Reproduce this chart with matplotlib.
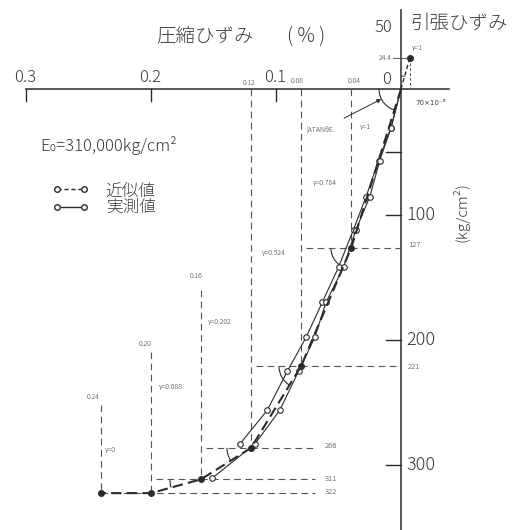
"""
Stress-strain curve of concrete (compression / tension), approximate vs measured
"""

import math
import matplotlib
matplotlib.use("Agg")
import matplotlib.pyplot as plt
from matplotlib.patches import Arc
from matplotlib.lines import Line2D
from matplotlib.transforms import IdentityTransform

plt.rcParams["font.family"] = ["Noto Sans CJK JP", "DejaVu Sans"]
plt.rcParams["font.weight"] = "light"

# approximate curve (compression strain %, stress kg/cm2)
approx_strain = [0, 0.04, 0.08, 0.12, 0.16, 0.20, 0.24]
approx_stress = [0, 127, 221, 286, 311, 322, 322]
strain_labels = ["", "0.04", "0.08", "0.12", "0.16", "0.20", "0.24"]
stress_labels = ["", "127", "221", "286", "311", "322", ""]
gamma_labels = ["γ=1", "γ=0.784", "γ=0.524", "γ=0.202", "γ=0.088", "γ=0"]

# tension point
tension_strain = -0.007
tension_stress = -24.4

# measured curves
meas1_strain = [0, 0.008, 0.018, 0.028, 0.038, 0.050, 0.063, 0.076, 0.091, 0.107, 0.129]
meas1_stress = [0, 31, 57, 86, 112, 142, 170, 198, 225, 256, 283]
meas2_strain = [0, 0.008, 0.017, 0.025, 0.036, 0.046, 0.060, 0.069, 0.082, 0.097, 0.117, 0.151]
meas2_stress = [0, 31, 57, 86, 112, 142, 170, 198, 225, 256, 283, 310]

x_ticks = [0.3, 0.2, 0.1]
x_tick_labels = ["0.3", "0.2", "0.1"]
y_ticks = [50, 100, 200, 300]

W, H = 514, 530
INK = "#2b2b2b"
TXT = "#3a3a3a"
GUIDE = "#555555"


def fx(px):
    return (401 - px) / 1250


def fy(py):
    return (py - 89) / 1.255


def label(px, py, s, size, **kw):
    kw.setdefault("ha", "center")
    kw.setdefault("va", "center")
    fig.text(px / W, 1 - py / H, s, fontsize=size, color=TXT, **kw)


fig = plt.figure(figsize=(W / 100, H / 100), dpi=100)
ax = fig.add_axes([0, 0, 1, 1])
ax.set_xlim(fx(0), fx(W))
ax.set_ylim(fy(H), fy(0))
ax.axis("off")

# axes
ax.plot([0.3, fx(449)], [0, 0], color=INK, lw=1.1)
ax.plot([0, 0], [fy(10), fy(H)], color=INK, lw=1.1)
for xt in x_ticks:
    ax.plot([xt, xt], [0, fy(101)], color=INK, lw=1.0)
for yt in y_ticks:
    ax.plot([fx(386), 0], [yt, yt], color=INK, lw=1.0)

# guide lines
dash = dict(color=GUIDE, lw=0.8, dashes=(6, 4))
guide_top = [0, 0, 0, 0, fy(290), fy(352), fy(405)]
for s, p, top in zip(approx_strain[1:], approx_stress[1:], guide_top[1:]):
    ax.plot([s, s], [top, p], **dash)
for s, p, lab in zip(approx_strain[1:6], approx_stress[1:6], stress_labels[1:6]):
    left = s + 0.036 if p != 322 else 0.24
    right = 0 if p < 250 else fx(315)
    ax.plot([left, right], [p, p], **dash)

# tension guides
ax.plot([0, tension_strain], [0, tension_stress], color=INK, lw=1.0, dashes=(3, 2))
ax.plot([tension_strain, tension_strain], [tension_stress, 0], color=GUIDE, lw=0.7, dashes=(3, 2))
ax.plot([fx(393), tension_strain], [tension_stress, tension_stress], color=GUIDE, lw=0.7)
ax.plot([tension_strain], [tension_stress], "o", color=INK, ms=4)

# measured curves
ax.plot(meas1_strain, meas1_stress, color=INK, lw=0.8)
ax.plot(meas1_strain[1:], meas1_stress[1:], "o", mfc="white", mec=INK, mew=0.8, ms=4)
ax.plot(meas2_strain, meas2_stress, color=INK, lw=0.8)
ax.plot(meas2_strain[1:], meas2_stress[1:], "o", mfc="white", mec=INK, mew=0.8, ms=4)

# approximate curve
ax.plot(approx_strain, approx_stress, color=INK, lw=1.5, dashes=(5, 2.5))
ax.plot(approx_strain[1:], approx_stress[1:], "o", color=INK, ms=4)


# tangent angle arcs
def angle_arc(i, r):
    c = ax.transData.transform((approx_strain[i], approx_stress[i]))
    n = ax.transData.transform((approx_strain[i + 1], approx_stress[i + 1]))
    ang = math.degrees(math.atan2(n[1] - c[1], n[0] - c[0])) % 360
    ax.add_patch(Arc(c, 2 * r, 2 * r, theta1=180, theta2=ang,
                     transform=IdentityTransform(), color=INK, lw=0.8))


for i, r in zip(range(5), [22, 20, 22, 24, 31]):
    angle_arc(i, r)

c0 = ax.transData.transform((0, 0))
ct = ax.transData.transform((tension_strain, tension_stress))
ang_t = math.degrees(math.atan2(ct[1] - c0[1], ct[0] - c0[0]))
ax.add_patch(Arc(c0, 26, 26, theta1=ang_t, theta2=90,
                 transform=IdentityTransform(), color=INK, lw=0.7))

# texts
label(205, 37, "圧縮ひずみ", 14)
label(306, 37, "( % )", 14)
label(459, 23, "引張ひずみ", 14)
label(383, 27, "50", 12)
for xt, lab in zip(x_ticks, x_tick_labels):
    label(401 - xt * 1250 - 1, 78, lab, 12)
label(387, 79, "0", 12)
for yt in y_ticks[1:]:
    label(421, 89 + yt * 1.255, str(yt), 13)
label(461, 212, "(kg/cm²)", 11, rotation=90)
label(40, 146, "E₀=310,000kg/cm²", 12, ha="left")

small_pos = [None, (354, 81), (297, 81), (249, 83), (196, 276), (145, 344), (93, 397)]
for pos, lab in zip(small_pos[1:], strain_labels[1:]):
    label(pos[0], pos[1], lab, 5)
stress_pos = [None, (414, 245), (414, 367), (331, 446), (331, 479), (331, 492)]
for pos, lab in zip(stress_pos[1:], stress_labels[1:6]):
    label(pos[0], pos[1], lab, 5.5)
gamma_pos = [(365, 127), (325, 183), (274, 253), (220, 322), (171, 387), (110, 450)]
for pos, lab in zip(gamma_pos, gamma_labels):
    label(pos[0], pos[1], lab, 5)

label(385, 58, "24.4", 5)
label(417, 48, "γ=1", 5)
label(431, 103, "70×10⁻⁶", 5, family=["DejaVu Sans"], fontweight="normal")

ax.annotate("|ATANθE.", xy=(0, 0), xytext=(fx(321), fy(130)),
            fontsize=5, color=TXT, ha="center", va="center",
            arrowprops=dict(arrowstyle="-|>", color=INK, lw=0.7,
                            shrinkA=8, shrinkB=16, mutation_scale=6))

# legend
h_approx = Line2D([], [], color=INK, lw=1.0, dashes=(3, 2), marker="o",
                  mfc="white", mec=INK, ms=4)
h_meas = Line2D([], [], color=INK, lw=1.0, marker="o", mfc="white", mec=INK, ms=4)
ax.legend([h_approx, h_meas], ["近似値", "実測値"], loc="upper left",
          bbox_to_anchor=(44 / W, 1 - 174 / H), bbox_transform=fig.transFigure,
          frameon=False, fontsize=12, numpoints=2, handlelength=2.2,
          handletextpad=1.0, labelspacing=0.05, borderpad=0, labelcolor=TXT)

fig.savefig("out.png", dpi=100, facecolor="white")
plt.close(fig)
